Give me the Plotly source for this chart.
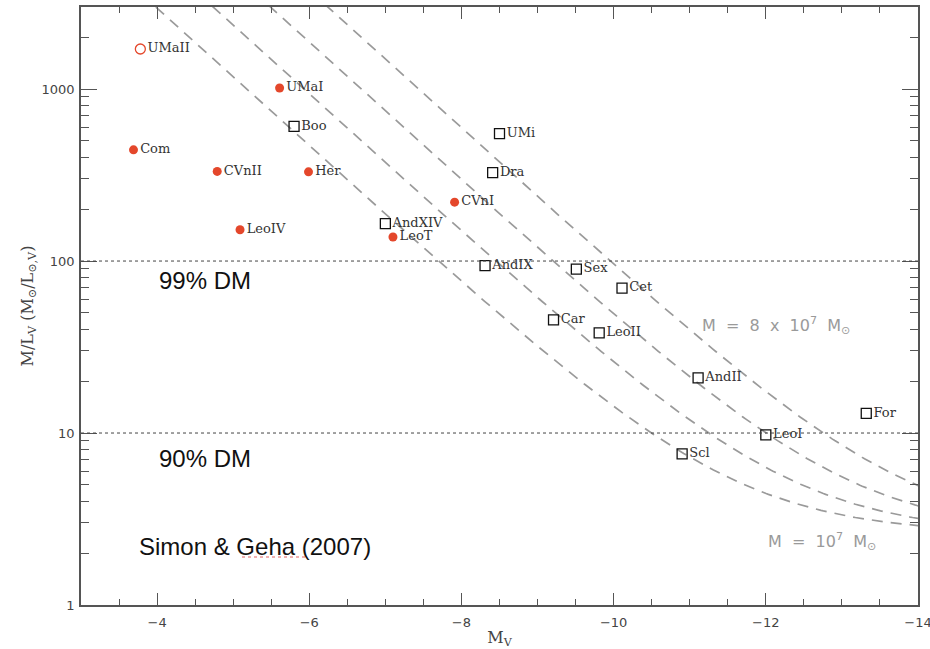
import numpy as np
import plotly.graph_objects as go

# ---- data ----
new_names = ["UMaI", "Com", "CVnII", "Her", "LeoIV", "LeoT", "CVnI"]
new_mv = [-5.61, -3.69, -4.79, -5.99, -5.09, -7.10, -7.91]
new_ml = [1014, 443, 332, 330, 152, 138, 220]

open_names = ["UMaII"]
open_mv = [-3.78]
open_ml = [1710]

cls_names = ["Boo", "AndXIV", "UMi", "Dra", "AndIX", "Sex", "Cet", "Car",
             "LeoII", "AndII", "For", "LeoI", "Scl"]
cls_mv = [-5.80, -7.00, -8.50, -8.41, -8.31, -9.51, -10.11, -9.21,
          -9.81, -11.11, -13.32, -12.00, -10.90]
cls_ml = [606, 165, 550, 327, 94, 89.7, 69.6, 45.5,
          38.2, 20.9, 13.0, 9.75, 7.56]

# constant-mass curves: M/L = M / L_V + stellar M/L
curve_masses = [1e7, 2e7, 4e7, 8e7]
stellar_ml = 2.6
sun_mv = 4.83
dm_levels = [100, 10]

# ---- figure ----
W, H = 930, 649
L, R, T, B = 81, 12, 7, 44
pw, ph = W - L - R, H - T - B


def px(x):
    return (x - L) / pw


def py(y):
    return 1 - (y - T) / ph


RED = "#e4472b"
SERIF = "DejaVu Serif"
fig = go.Figure()

mv_grid = np.linspace(-2.5, -14.5, 400)
lum = 10 ** (-0.4 * (mv_grid - sun_mv))
for m in curve_masses:
    fig.add_trace(go.Scatter(
        x=mv_grid, y=m / lum + stellar_ml, mode="lines",
        line=dict(color="#9a9a9a", width=1.7, dash="11px,8px"),
        hoverinfo="skip", showlegend=False, cliponaxis=True))

lab_font = dict(family=SERIF, size=13, color="#333333")

fig.add_trace(go.Scatter(
    x=cls_mv, y=cls_ml, text=cls_names, mode="markers+text",
    textposition="middle right", textfont=lab_font,
    marker=dict(symbol="square-open", size=10, color="#111111",
                line=dict(width=1.3, color="#111111")),
    showlegend=False))
fig.add_trace(go.Scatter(
    x=new_mv, y=new_ml, text=new_names, mode="markers+text",
    textposition="middle right", textfont=lab_font,
    marker=dict(symbol="circle", size=9, color=RED), showlegend=False))
fig.add_trace(go.Scatter(
    x=open_mv, y=open_ml, text=open_names, mode="markers+text",
    textposition="middle right", textfont=lab_font,
    marker=dict(symbol="circle-open", size=10, color=RED,
                line=dict(width=1.3, color=RED)), showlegend=False))

for lvl in dm_levels:
    fig.add_shape(type="line", xref="paper", yref="y", x0=0, x1=1,
                  y0=lvl, y1=lvl,
                  line=dict(color="#444444", width=1, dash="dot"))

minor_y = [k * 10 ** d for d in range(0, 4) for k in range(2, 10) if k * 10 ** d < 3000]

axis_common = dict(showline=True, linecolor="#555555", linewidth=1.5,
                   mirror="allticks", ticks="inside", tickcolor="#555555",
                   showgrid=False, zeroline=False, ticklabeloverflow="allow",
                   automargin=False,
                   tickfont=dict(family="DejaVu Sans", size=13, color="#444444"))

title_font = dict(family="DejaVu Serif", size=16, color="#444444")

fig.update_layout(
    width=W, height=H,
    margin=dict(l=L, r=R, t=T, b=B),
    paper_bgcolor="white", plot_bgcolor="white",
    xaxis=dict(range=[-3, -14], tickmode="linear", tick0=0, dtick=2,
               ticklen=12, tickwidth=1.2, ticklabelstandoff=5,
               minor=dict(dtick=0.5, ticks="inside", ticklen=6,
                          tickcolor="#555555", tickwidth=1),
               title=dict(text="M<sub>V</sub>", standoff=4, font=title_font),
               **axis_common),
    yaxis=dict(type="log", range=[0, np.log10(3000)],
               tickvals=[1, 10, 100, 1000], ticktext=["1", "10", "100", "1000"],
               ticklen=16, tickwidth=1.2, ticklabelstandoff=2,
               minor=dict(tickvals=minor_y, ticks="inside", ticklen=8,
                          tickcolor="#555555", tickwidth=1),
               title=dict(text="M/L<sub>V</sub> (M<sub>⊙</sub>/L<sub>⊙,V</sub>)",
                          standoff=4, font=title_font),
               **axis_common),
)

big = dict(family="Liberation Sans", size=24, color="#111111")
fig.add_annotation(xref="paper", yref="paper", x=px(157), y=py(280),
                   text="99% DM", showarrow=False, xanchor="left",
                   yanchor="middle", font=big)
fig.add_annotation(xref="paper", yref="paper", x=px(157), y=py(458),
                   text="90% DM", showarrow=False, xanchor="left",
                   yanchor="middle", font=big)
fig.add_annotation(xref="paper", yref="paper", x=px(137), y=py(546),
                   text="Simon & Geha (2007)", showarrow=False, xanchor="left",
                   yanchor="middle", font=big)
fig.add_shape(type="line", xref="paper", yref="paper",
              x0=px(242), x1=px(306), y0=py(557), y1=py(557),
              line=dict(color="#e06060", width=1, dash="dot"))

gray = dict(family="DejaVu Sans", size=16, color="#9a9a9a")
nb = "\u00a0"
fig.add_annotation(xref="paper", yref="paper", x=px(700), y=py(325),
                   text=f"M{nb}{nb}={nb}{nb}8{nb}{nb}x{nb}{nb}10<sup>7</sup>{nb}{nb}M<sub>⊙</sub>",
                   showarrow=False, xanchor="left", yanchor="middle", font=gray)
fig.add_annotation(xref="paper", yref="paper", x=px(766), y=py(541),
                   text=f"M{nb}{nb}={nb}{nb}10<sup>7</sup>{nb}{nb}M<sub>⊙</sub>",
                   showarrow=False, xanchor="left", yanchor="middle", font=gray)

fig.write_html("out.html")
